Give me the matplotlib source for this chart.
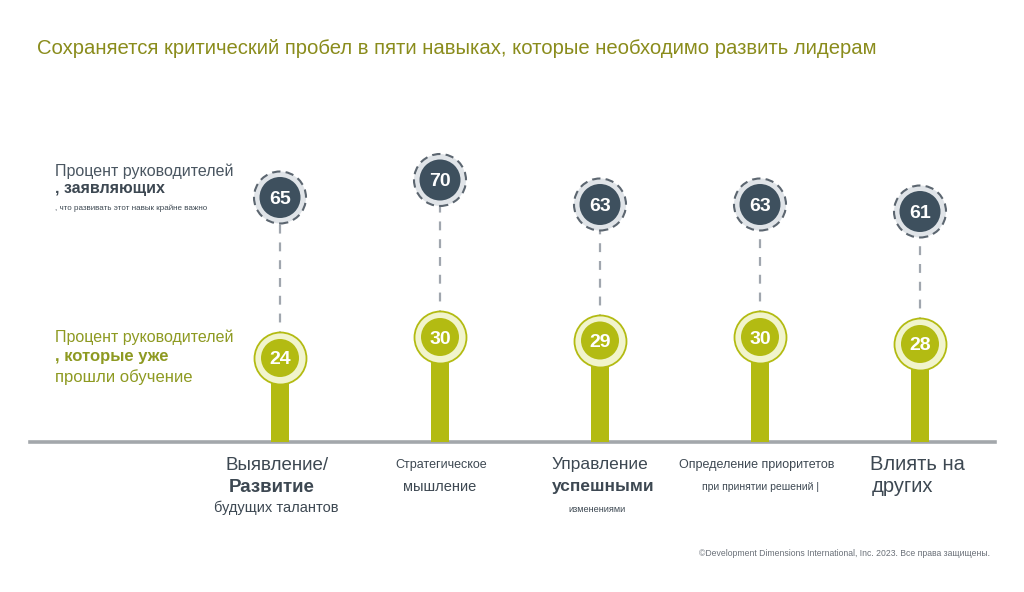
import matplotlib
matplotlib.use("Agg")
import matplotlib.pyplot as plt
from matplotlib import font_manager as fm

names = {f.name for f in fm.fontManager.ttflist}
NARROW = "Liberation Sans Narrow" if "Liberation Sans Narrow" in names else "Liberation Sans"
SANS = "Liberation Sans"

# ---------------- data ----------------
categories = ["Выявление/Развитие будущих талантов", "Стратегическое мышление",
              "Управление успешными изменениями", "Определение приоритетов при принятии решений",
              "Влиять на других"]
important_pct = [65, 70, 63, 63, 61]   # % leaders saying skill is critical
trained_pct = [24, 30, 29, 30, 28]     # % leaders already trained

title = "Сохраняется критический пробел в пяти навыках, которые необходимо развить лидерам"
label_important = ["Процент руководителей", ", заявляющих", ", что развивать этот навык крайне важно"]
label_trained = ["Процент руководителей", ", которые уже", "прошли обучение"]
cat_lines = [
    ["Выявление/", "Развитие", "будущих талантов"],
    ["Стратегическое", "мышление"],
    ["Управление", "успешными", "изменениями"],
    ["Определение приоритетов", "при принятии решений |"],
    ["Влиять на", "других"],
]
copyright_text = "©Development Dimensions International, Inc. 2023. Все права защищены."

# ---------------- style ----------------
GREEN = "#b3bb12"
CREAM = "#f1f4cc"
DARK = "#3e505e"
RING = "#e0e4e8"
DASH = "#5c6670"
TXT = "#3d4852"
OLIVE = "#8a8c1c"

W, H = 1024, 592
fig = plt.figure(figsize=(W / 100, H / 100), dpi=100)
fig.patch.set_facecolor("white")

# main axes: left 30px, right 995px, bottom at baseline 442px, top 140px
base_px = 442
ax = fig.add_axes([30 / W, (H - base_px) / H, 965 / W, (base_px - 140) / H])
px_per_unit_x = 160
x0 = 280
ax.set_xlim((30 - x0) / px_per_unit_x, (995 - x0) / px_per_unit_x)
ax.set_ylim(0, (base_px - 140) / 3.5)
ax.axis("off")

# twin axis for the "important" circles (offset upward)
ax2 = ax.twinx()
off = 17 / 3.5
ax2.set_ylim(-off, (base_px - 140) / 3.5 - off)
ax2.axis("off")

xs = list(range(len(categories)))

# baseline
ax.axhline(0, color="#a3a7ab", lw=2.6, zorder=1, clip_on=False)

# stems
ax.bar(xs, trained_pct, width=18 / px_per_unit_x, color=GREEN, zorder=2)

# dashed connectors (from dark circle down to green circle)
for x, v_imp, v_tr in zip(xs, important_pct, trained_pct):
    y_top = v_imp + off
    ax.plot([x, x], [v_tr, y_top], color="#a0a6ae", lw=1.6, ls=(0, (4, 4)), zorder=1.5)

pt = 0.72
def s(d):
    return (d * pt) ** 2

# green circles
ax.scatter(xs, trained_pct, s=s(52), color=CREAM, edgecolor=GREEN, linewidth=1.3, zorder=3)
ax.scatter(xs, trained_pct, s=s(38), color=GREEN, edgecolor="none", zorder=4)
for x, v in zip(xs, trained_pct):
    ax.text(x, v, str(v), ha="center", va="center_baseline", color="white",
            fontsize=14, fontweight="bold", family=[NARROW, "DejaVu Sans"], zorder=5)

# dark circles
ax2.scatter(xs, important_pct, s=s(52), color=RING, edgecolor=DASH, linewidth=1.5,
            linestyle=(0, (4, 2.5)), zorder=3)
ax2.scatter(xs, important_pct, s=s(41), color=DARK, edgecolor="none", zorder=4)
for x, v in zip(xs, important_pct):
    ax2.text(x, v, str(v), ha="center", va="center_baseline", color="white",
             fontsize=14, fontweight="bold", family=[NARROW, "DejaVu Sans"], zorder=5)

# ---------------- texts (figure pixel coords) ----------------
def ftxt(x, y, t, **kw):
    fig.text(x / W, 1 - y / H, t, **kw)

ftxt(37, 48, title, fontsize=14.6, color=OLIVE, va="center", ha="left", family=SANS)

ftxt(55, 171, label_important[0], fontsize=11.5, color="#4a5661", va="center", family=SANS)
ftxt(55, 188, label_important[1], fontsize=11.5, color="#3d4852", va="center", family=SANS,
     fontweight="bold")
ftxt(55, 208, label_important[2], fontsize=5.8, color="#3d4852", va="center", family=NARROW)

ftxt(55, 337, label_trained[0], fontsize=11.5, color="#8e9a22", va="center", family=SANS)
ftxt(55, 356, label_trained[1], fontsize=12, color="#8e9a22", va="center", family=SANS,
     fontweight="bold")
ftxt(55, 377, label_trained[2], fontsize=12, color="#8e9a22", va="center", family=SANS)

# category labels: (y px, size, family, weight) per line
cat_styles = [
    [(466, 13.5, SANS, "normal"), (487, 13.5, SANS, "bold"), (508, 10.5, SANS, "normal")],
    [(465, 9, NARROW, "normal"), (487, 10.5, SANS, "normal")],
    [(464, 12.5, SANS, "normal"), (487, 12.5, SANS, "bold"), (509, 6.6, NARROW, "normal")],
    [(465, 9, NARROW, "normal"), (487, 7.5, NARROW, "normal")],
    [(465, 14.5, SANS, "normal"), (486, 14.5, SANS, "normal")],
]
cat_dx = [[-3, -8, -4], [1, 0], [0, 3, -3], [-3, 0], [-3, -17]]
for i, (lines, styles) in enumerate(zip(cat_lines, cat_styles)):
    cx = x0 + i * px_per_unit_x
    for j, (line, (y, fs, fam, fw)) in enumerate(zip(lines, styles)):
        ftxt(cx + cat_dx[i][j], y, line, fontsize=fs, family=fam, fontweight=fw,
             color=TXT, ha="center", va="center")

ftxt(990, 553, copyright_text, fontsize=6.2, color="#6a7078", ha="right", va="center",
     family=NARROW)

fig.savefig("out.png", dpi=100, facecolor="white")
